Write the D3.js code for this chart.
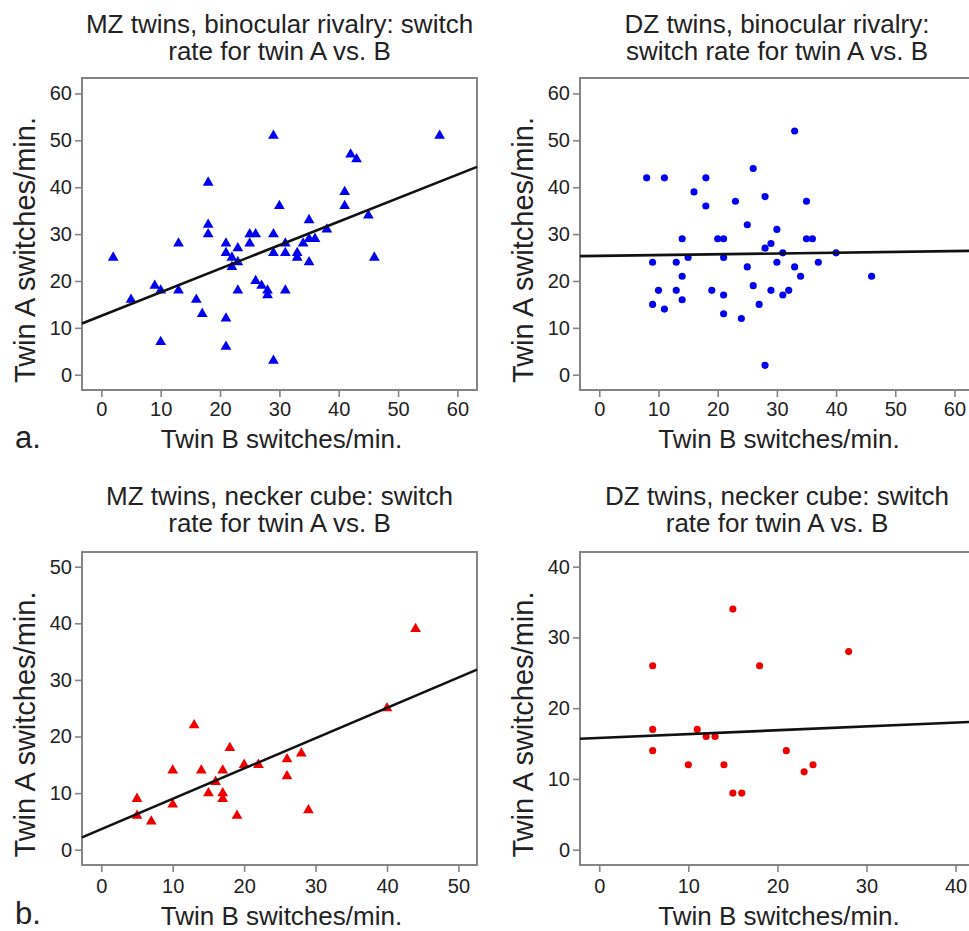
<!DOCTYPE html>
<html><head><meta charset="utf-8">
<script src="https://cdn.jsdelivr.net/npm/d3@7"></script>
<style>
body{margin:0;background:#fff;}
svg{display:block;background:#fff;}
text{font-family:"Liberation Sans",Arial,Helvetica,sans-serif;fill:#222;}
</style>
</head><body>
<svg id="chart" width="969" height="931"></svg>
<script>
// ---------- DATA ----------
// MZ twins, binocular rivalry (switches/min)
const mzRivalryB = [2,5,9,10,10,13,13,16,17,18,18,18,21,21,21,21,22,22,23,23,23,25,25,26,26,27,28,28,29,29,29,29,30,31,31,31,33,33,34,35,35,35,36,38,41,41,42,43,45,46,57];
const mzRivalryA = [25,16,19,18,7,28,18,16,13,41,32,30,28,26,12,6,25,23,27,24,18,30,28,30,20,19,18,17,51,30,26,3,36,28,26,18,26,25,28,33,29,24,29,31,39,36,47,46,34,25,51];
// DZ twins, binocular rivalry
const dzRivalryB = [8,9,9,10,11,11,13,13,14,14,14,15,16,18,18,19,20,21,21,21,21,23,24,25,25,26,26,27,28,28,28,29,29,30,30,31,31,32,33,33,34,35,35,36,37,40,46];
const dzRivalryA = [42,24,15,18,42,14,24,18,29,21,16,25,39,42,36,18,29,29,25,17,13,37,12,32,23,44,19,15,38,27,2,28,18,31,24,26,17,18,52,23,21,37,29,29,24,26,21];
// MZ twins, necker cube
const mzNeckerB = [5,5,7,10,10,13,14,15,16,17,17,17,18,19,20,22,26,26,28,29,40,44];
const mzNeckerA = [9,6,5,14,8,22,14,10,12,14,10,9,18,6,15,15,16,13,17,7,25,39];
// DZ twins, necker cube
const dzNeckerB = [6,6,6,10,11,12,13,14,15,15,16,18,21,23,24,28];
const dzNeckerA = [26,17,14,12,17,16,16,12,34,8,8,26,14,11,12,28];
// regression fits [intercept, slope]
const fitMzRivalry = [12.57, 0.502];
const fitDzRivalry = [25.35, 0.017];
const fitMzNecker = [3.63, 0.536];
const fitDzNecker = [15.8, 0.054];
// tick labels
const ticks60 = [0,10,20,30,40,50,60];
const ticks50 = [0,10,20,30,40,50];
const ticks40 = [0,10,20,30,40];
// texts
const titleMzRivalry = ["MZ twins, binocular rivalry: switch","rate for twin A vs. B"];
const titleDzRivalry = ["DZ twins, binocular rivalry:","switch rate for twin A vs. B"];
const titleMzNecker = ["MZ twins, necker cube: switch","rate for twin A vs. B"];
const titleDzNecker = ["DZ twins, necker cube: switch","rate for twin A vs. B"];
const xLabel = "Twin B switches/min.";
const yLabel = "Twin A switches/min.";
const panelLetters = ["a.","b."];

// ---------- LAYOUT ----------
const BLUE = "#0000ee", RED = "#ee0000";
const panels = [
  {xs:mzRivalryB, ys:mzRivalryA, fit:fitMzRivalry, ticks:ticks60, dom:[-3.26,63.3], title:titleMzRivalry,
   left:82, right:477, top:78, bottom:390, color:BLUE, shape:d3.symbolTriangle, tickPad:5, titleOff:-45, xlabOff:58},
  {xs:dzRivalryB, ys:dzRivalryA, fit:fitDzRivalry, ticks:ticks60, dom:[-3.26,63.3], title:titleDzRivalry,
   left:580, right:974, top:78, bottom:390, color:BLUE, shape:d3.symbolCircle, tickPad:5, titleOff:-45, xlabOff:58},
  {xs:mzNeckerB, ys:mzNeckerA, fit:fitMzNecker, ticks:ticks50, dom:[-2.7,52.6], title:titleMzNecker,
   left:82, right:477, top:552, bottom:865, color:RED, shape:d3.symbolTriangle, tickPad:7, titleOff:-47, xlabOff:60},
  {xs:dzNeckerB, ys:dzNeckerA, fit:fitDzNecker, ticks:ticks40, dom:[-2.16,42.07], title:titleDzNecker,
   left:580, right:974, top:552, bottom:865, color:RED, shape:d3.symbolCircle, tickPad:7, titleOff:-47, xlabOff:60}
];

const svg = d3.select("#chart");
const FRAME = "#858585";

panels.forEach(p => {
  const x = d3.scaleLinear().domain(p.dom).range([p.left, p.right]);
  const y = d3.scaleLinear().domain(p.dom).range([p.bottom, p.top]);
  const g = svg.append("g");
  const cx = (p.left + p.right) / 2;

  // title (one text, two lines)
  const tt = g.append("text").attr("text-anchor", "middle").style("font-size", "26px")
    .attr("x", cx).attr("y", p.top + p.titleOff);
  p.title.forEach((t, i) => {
    tt.append("tspan").attr("x", cx).attr("dy", i === 0 ? 0 : 27).text(t);
  });

  // axes
  const xa = g.append("g").attr("transform", `translate(0,${p.bottom})`)
    .call(d3.axisBottom(x).tickValues(p.ticks).tickSizeInner(7).tickSizeOuter(0).tickPadding(p.tickPad));
  const ya = g.append("g").attr("transform", `translate(${p.left},0)`)
    .call(d3.axisLeft(y).tickValues(p.ticks).tickSizeInner(7).tickSizeOuter(0).tickPadding(3));
  [xa, ya].forEach(a => {
    a.select(".domain").remove();
    a.selectAll(".tick line").attr("stroke", FRAME).attr("stroke-width", 1.6);
    a.selectAll(".tick text").style("font-size", "20px").style("font-family", '"Liberation Sans",Arial,sans-serif').attr("fill", "#222");
  });

  // frame
  g.append("rect").attr("x", p.left).attr("y", p.top)
    .attr("width", p.right - p.left).attr("height", p.bottom - p.top)
    .attr("fill", "none").attr("stroke", FRAME).attr("stroke-width", 2);

  // points
  const sym = d3.symbol().type(p.shape).size(p.shape === d3.symbolTriangle ? 50 : 40);
  g.append("g").selectAll("path").data(p.xs.map((v, i) => [v, p.ys[i]])).join("path")
    .attr("d", sym)
    .attr("transform", d => `translate(${x(d[0])},${y(d[1])})`)
    .attr("fill", p.color);

  // regression line
  const x0 = p.dom[0], x1 = p.dom[1];
  g.append("line")
    .attr("x1", x(x0)).attr("y1", y(p.fit[0] + p.fit[1] * x0))
    .attr("x2", x(x1)).attr("y2", y(p.fit[0] + p.fit[1] * x1))
    .attr("stroke", "#111").attr("stroke-width", 2.6);

  // axis labels
  g.append("text").attr("x", cx + 2).attr("y", p.bottom + p.xlabOff)
    .attr("text-anchor", "middle").style("font-size", "26px").text(xLabel);
  const ycy = (p.top + p.bottom) / 2 + 16;
  g.append("text").attr("transform", `translate(${p.left - 47},${ycy}) rotate(-90)`)
    .attr("text-anchor", "middle").style("font-size", "29px").text(yLabel);
});

// panel letters
svg.append("text").attr("x", 15).attr("y", 448).style("font-size", "31px").text(panelLetters[0]);
svg.append("text").attr("x", 15).attr("y", 924).style("font-size", "31px").text(panelLetters[1]);
</script>
</body></html>
